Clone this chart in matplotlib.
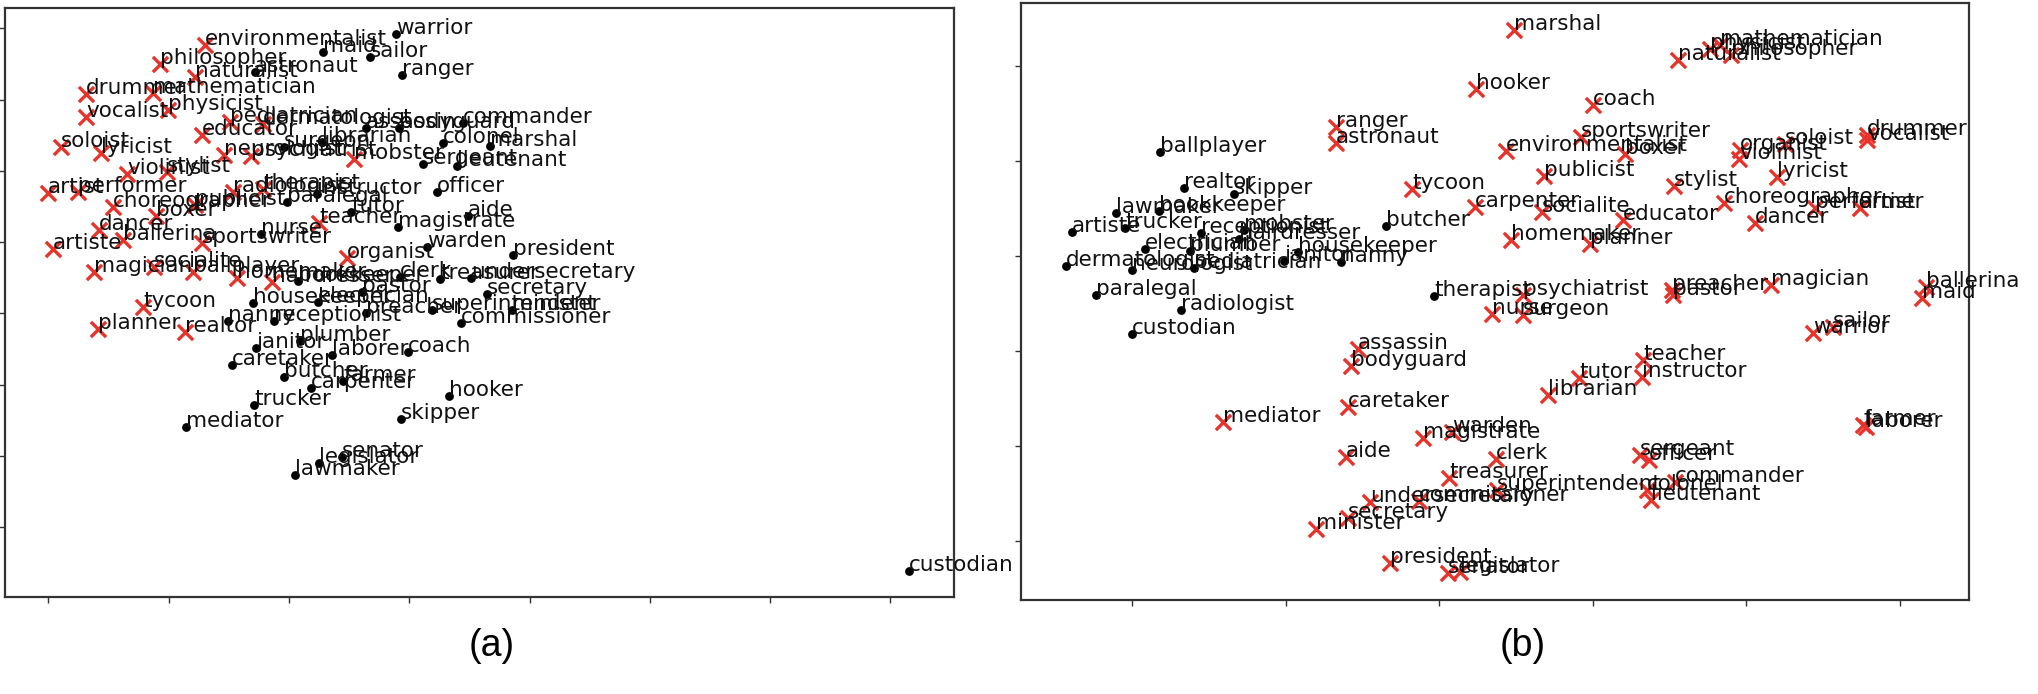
import matplotlib
matplotlib.use("Agg")
import matplotlib.pyplot as plt
import numpy as np

# ---------------- Panel (a) data (embedding coordinates) ----------------
a_red_words = ["environmentalist", "philosopher", "naturalist", "drummer", "mathematician", "vocalist",
               "physicist", "pediatrician", "dermatologist", "educator", "soloist", "lyricist",
               "neurologist", "psychiatrist", "violinist", "stylist", "artist", "performer",
               "radiologist", "therapist", "choreographer", "publicist", "boxer", "dancer",
               "ballerina", "sportswriter", "artiste", "magician", "socialite", "ballplayer",
               "homemaker", "hairdresser", "teacher", "organist", "mobster", "tycoon", "planner",
               "realtor"]
a_red_x = [205, 160, 195, 86, 153, 86, 168, 230, 263, 202, 61, 101, 224, 251, 127, 167, 48, 78,
           233, 263, 113, 195, 156, 99, 123, 202, 53, 94, 154, 193, 237, 272, 319, 347, 354, 143,
           98, 185]
a_red_y = [45, 64, 77, 94, 93, 117, 110, 122, 124, 135, 147, 153, 155, 156, 174, 172, 193, 192,
           192, 189, 207, 205, 216, 230, 240, 243, 249, 272, 267, 272, 278, 282, 223, 258, 159, 307,
           329, 332]

a_blk_words = ["warrior", "maid", "sailor", "astronaut", "ranger", "assassin", "bodyguard",
               "commander", "librarian", "surgeon", "colonel", "marshal", "sergeant", "lieutenant",
               "officer", "instructor", "paralegal", "tutor", "nurse", "aide", "magistrate",
               "warden", "president", "clerk", "bookkeeper", "treasurer", "undersecretary",
               "secretary", "pastor", "housekeeper", "electrician", "preacher", "superintendent",
               "minister", "commissioner", "receptionist", "nanny", "janitor", "plumber", "laborer",
               "coach", "caretaker", "butcher", "farmer", "carpenter", "trucker", "hooker",
               "skipper", "mediator", "senator", "legislator", "lawmaker", "custodian"]
a_blk_x = [396, 323, 370, 255, 402, 366, 399, 463, 322, 284, 443, 490, 423, 457, 437, 317, 287,
           351, 261, 468, 398, 427, 513, 400, 298, 440, 471, 487, 362, 253, 318, 366, 432, 512,
           461, 274, 228, 256, 300, 332, 408, 232, 284, 343, 311, 254, 449, 401, 186, 342, 319,
           295, 909]
a_blk_y = [34, 52, 57, 72, 75, 128, 128, 123, 142, 147, 143, 146, 164, 166, 192, 194, 202, 212,
           234, 216, 227, 247, 255, 277, 281, 279, 278, 294, 292, 303, 302, 313, 310, 310, 323,
           321, 321, 348, 341, 355, 352, 365, 377, 381, 388, 405, 396, 419, 427, 457, 463, 475,
           571]

# ---------------- Panel (b) data ----------------
b_red_words = ["marshal", "hooker", "coach", "ranger", "astronaut", "environmentalist",
               "sportswriter", "boxer", "publicist", "naturalist", "physicist", "mathematician",
               "philosopher", "soloist", "organist", "violinist", "lyricist", "drummer", "vocalist",
               "stylist", "choreographer", "performer", "artist", "dancer", "socialite", "educator",
               "homemaker", "planner", "carpenter", "tycoon", "psychiatrist", "nurse", "surgeon",
               "preacher", "pastor", "magician", "ballerina", "maid", "sailor", "warrior",
               "teacher", "instructor", "tutor", "librarian", "assassin", "bodyguard", "caretaker",
               "mediator", "aide", "magistrate", "warden", "clerk", "treasurer", "superintendent",
               "commissioner", "undersecretary", "secretary", "minister", "president", "senator",
               "legislator", "sergeant", "officer", "commander", "colonel", "lieutenant", "farmer",
               "laborer"]
b_red_x = [1514, 1476, 1593, 1336, 1336, 1506, 1581, 1625, 1544, 1678, 1710, 1720, 1731, 1785,
           1740, 1739, 1777, 1867, 1867, 1674, 1724, 1815, 1860, 1755, 1542, 1623, 1511, 1590,
           1475, 1412, 1523, 1492, 1523, 1672, 1673, 1771, 1926, 1922, 1833, 1813, 1643, 1642,
           1579, 1548, 1358, 1351, 1348, 1223, 1346, 1423, 1452, 1496, 1449, 1497, 1419, 1370,
           1348, 1316, 1390, 1448, 1460, 1640, 1649, 1675, 1647, 1651, 1863, 1866]
b_red_y = [30, 89, 105, 127, 143, 151, 137, 154, 176, 60, 49, 45, 55, 144, 150, 159, 177, 135,
           140, 186, 203, 208, 208, 223, 212, 220, 240, 244, 207, 189, 295, 314, 315, 290, 295,
           285, 287, 298, 327, 333, 360, 377, 378, 395, 349, 366, 407, 422, 457, 438, 432, 459,
           478, 490, 501, 502, 518, 529, 563, 573, 572, 455, 460, 482, 490, 500, 425, 427]

b_blk_words = ["ballplayer", "realtor", "skipper", "lawmaker", "bookkeeper", "artiste", "trucker",
               "receptionist", "mobster", "hairdresser", "electrician", "plumber", "housekeeper",
               "janitor", "nanny", "dermatologist", "neurologist", "pediatrician", "butcher",
               "paralegal", "radiologist", "custodian", "therapist"]
b_blk_x = [1160, 1184, 1234, 1116, 1159, 1072, 1125, 1201, 1244, 1239, 1145, 1190, 1298, 1284,
           1341, 1066, 1132, 1194, 1386, 1096, 1181, 1132, 1434]
b_blk_y = [152, 188, 194, 213, 211, 232, 228, 233, 230, 239, 249, 251, 252, 261, 262, 266, 270,
           268, 226, 295, 310, 334, 296]

panel_labels = ["(a)", "(b)"]

RED = "#e8332b"
FS = 15.5

fig = plt.figure(figsize=(20.38, 6.94), dpi=100)
W, H = 2038.0, 694.0

def add_axes_px(x0, y0, x1, y1):
    return fig.add_axes([x0 / W, 1 - y1 / H, (x1 - x0) / W, (y1 - y0) / H])

axA = add_axes_px(5, 8, 954, 597)
axB = add_axes_px(1021, 3.3, 1969, 600)

def draw(ax, rw, rx, ry, bw, bx, by):
    ax.scatter(bx, by, s=40, c="black", marker="o", zorder=2, linewidths=0)
    ax.scatter(rx, ry, s=120, c=RED, marker="x", linewidths=2.4, zorder=2)
    for w, x, y in zip(bw, bx, by):
        ax.text(x, y, w, fontsize=FS, ha="left", va="baseline", color="#111111",
                clip_on=False, zorder=3)
    for w, x, y in zip(rw, rx, ry):
        ax.text(x, y, w, fontsize=FS, ha="left", va="baseline", color="#111111",
                clip_on=False, zorder=3)
    for sp in ax.spines.values():
        sp.set_linewidth(1.6)
        sp.set_color("#333333")
    ax.tick_params(axis="both", direction="out", length=4, width=1.0, color="#333333",
                   labelleft=False, labelbottom=False)

draw(axA, a_red_words, a_red_x, a_red_y, a_blk_words, a_blk_x, a_blk_y)
draw(axB, b_red_words, b_red_x, b_red_y, b_blk_words, b_blk_x, b_blk_y)

axA.set_xlim(5, 954)
axA.set_ylim(597, 8)
axA.set_xticks(48.3 + 120.3 * np.arange(8))
axA.set_yticks(28.3 + 71.25 * np.arange(8))

axB.set_xlim(1021, 1969)
axB.set_ylim(600, 3.3)
axB.set_xticks(1132.3 + 153.5 * np.arange(6))
axB.set_yticks(66 + 95 * np.arange(6))

fig.text(492 / W, 1 - 646 / H, panel_labels[0], fontsize=27, family="Liberation Sans",
         ha="center", va="center")
fig.text(1523 / W, 1 - 646 / H, panel_labels[1], fontsize=27, family="Liberation Sans",
         ha="center", va="center")

fig.savefig("out.png", dpi=100)
